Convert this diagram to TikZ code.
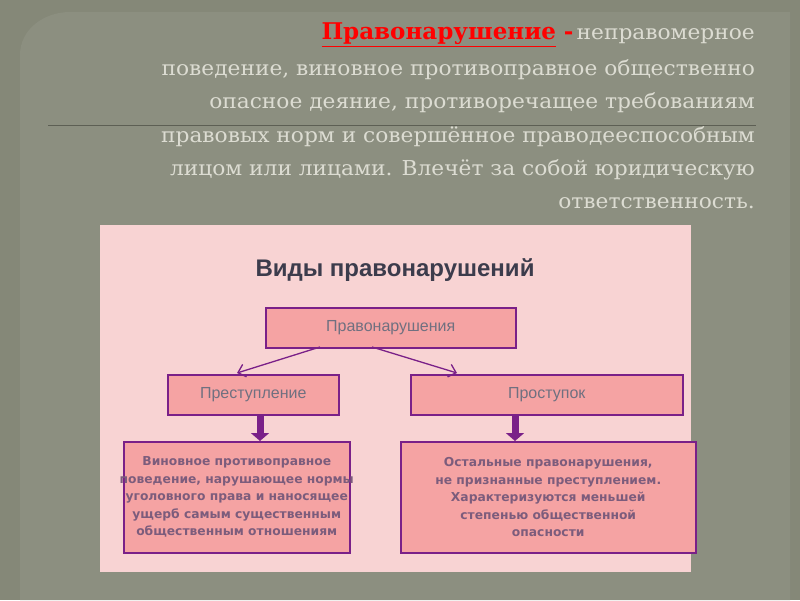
\documentclass[tikz,border=0pt]{standalone}
\usepackage{fontspec}
\setmainfont{DejaVu Serif}
\newfontfamily\boxfont{DejaVu Sans}
\newfontfamily\titlefont{Liberation Sans}
\usetikzlibrary{arrows.meta}
\definecolor{bg}{HTML}{858878}
\definecolor{panel}{HTML}{8C8F80}
\definecolor{txt}{HTML}{DCDCD2}
\definecolor{pinkbg}{HTML}{F8D3D3}
\definecolor{salmon}{HTML}{F5A3A3}
\definecolor{purp}{HTML}{7A2088}
\definecolor{gtxt}{HTML}{707080}
\definecolor{btxt}{HTML}{7C5C7C}
\definecolor{ttl}{HTML}{3C3C4C}
\newcommand{\tline}[1]{\scalebox{1.06}[1]{\fontsize{20.5}{20.5}\selectfont #1}}
\tikzset{
 line/.style={anchor=east,text=txt,inner sep=0},
 box/.style={draw=purp,line width=1.5pt,fill=salmon,anchor=north west,inner sep=0},
 thin/.style={draw=purp,line width=1.3pt,-{Straight Barb[length=7pt,width=13pt]}},
 fat/.style={draw=purp,line width=7pt,-{Triangle[length=8pt,width=18pt]}},
 btext/.style={font=\boxfont\bfseries\fontsize{12.3}{17.5}\selectfont,text=btxt,align=center},
 ltext/.style={font=\titlefont\fontsize{16}{16}\selectfont,text=gtxt},
}
\begin{document}
\begin{tikzpicture}[x=1pt,y=-1pt]
\useasboundingbox (0,0) rectangle (800,600);
\fill[bg] (0,0) rectangle (800,600);
\fill[panel] (20,600) -- (20,55) to[out=90,in=180] (70,12) -- (790,12) -- (790,600) -- cycle;
\draw[draw=bg!70!black,line width=1pt] (48,125) -- (756,125);
\node[line] (l1) at (755,35) {{\color{red}\bfseries\fontsize{23}{23}\selectfont\underline{Правонарушение} -} \tline{неправомерное}};
\node[line] (l2) at (755,70) {\tline{поведение, виновное противоправное общественно}};
\node[line] (l3) at (755,103) {\tline{опасное деяние, противоречащее требованиям}};
\node[line] (l4) at (755,137) {\tline{правовых норм и совершённое праводееспособным}};
\node[line] (l5) at (755,170) {\tline{лицом или лицами. Влечёт за собой юридическую}};
\node[line] (l6) at (755,203) {\tline{ответственность.}};
\fill[pinkbg] (100,225) rectangle (691,572);
\node[font=\titlefont\bfseries\fontsize{24}{24}\selectfont,text=ttl] (t) at (395,270) {Виды правонарушений};
\node[box,minimum width=250,minimum height=40] (a) at (265,307) {};
\node[ltext] at (a.center) {Правонарушения};
\node[box,minimum width=171,minimum height=40] (b) at (167,374) {};
\node[ltext] at (b.center) {Преступление};
\node[box,minimum width=272,minimum height=40] (c) at (410,374) {};
\node[ltext] at (c.center) {Проступок};
\node[box,minimum width=226,minimum height=111] (d) at (123,441) {};
\node[btext] at (d.center) {Виновное противоправное\\поведение, нарушающее нормы\\уголовного права и наносящее\\ущерб самым существенным\\общественным отношениям};
\node[box,minimum width=295,minimum height=111] (e) at (400,441) {};
\node[btext] at (e.center) {Остальные правонарушения,\\не признанные преступлением.\\Характеризуются меньшей\\степенью общественной\\опасности};
\coordinate (a1) at (320,347); \coordinate (a2) at (372,347);
\coordinate (b1) at (237,373); \coordinate (c1) at (457,373);
\draw[thin] (a1) -- (b1);
\draw[thin] (a2) -- (c1);
\draw[fat] (b.south -| 260,0) -- (d.north -| 260,0);
\draw[fat] (c.south -| 515,0) -- (e.north -| 515,0);
\end{tikzpicture}
\end{document}
